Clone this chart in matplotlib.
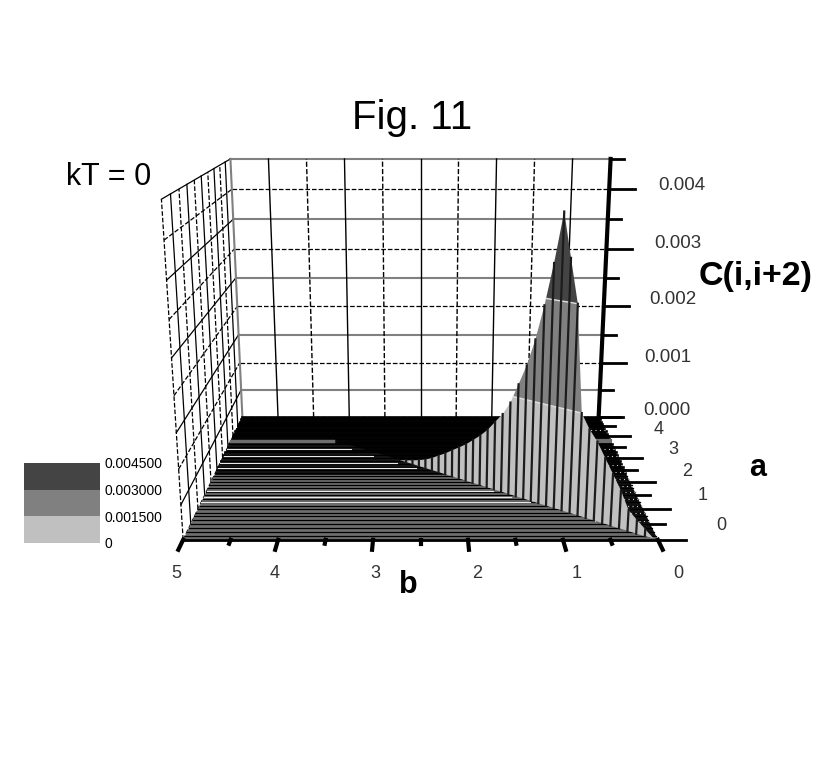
import matplotlib
matplotlib.use('Agg')
import matplotlib.pyplot as plt
import numpy as np
from mpl_toolkits.mplot3d.art3d import Poly3DCollection

plt.rcParams['font.family'] = ['Liberation Sans', 'DejaVu Sans']

# ridge of C(i,i+2), everything else lies flat on the floor
ridge_b = [0.04, 0.12, 0.2, 0.28, 0.36, 0.44, 0.52, 0.6, 0.68, 0.76, 0.84, 0.92, 1.0, 1.08, 1.16, 1.24, 1.32, 1.4,
           1.48, 1.56, 1.64, 1.72, 1.8, 1.88, 1.96, 2.04, 2.12, 2.2, 2.28, 2.36, 2.44, 2.52, 2.6, 2.68, 2.76]
ridge_a = [0.05, 0.11, 0.19, 0.28, 0.36, 0.45, 0.53, 0.62, 0.7, 0.79, 0.87, 0.96, 1.04, 1.12, 1.21, 1.29, 1.38, 1.46,
           1.55, 1.63, 1.72, 1.8, 1.89, 1.97, 2.06, 2.14, 2.23, 2.31, 2.4, 2.48, 2.57, 2.65, 2.74, 2.82, 2.91]
ridge_c = [0.0, 0.0001, 0.0002, 0.0003, 0.00055, 0.00075, 0.00095, 0.00115, 0.0013, 0.0015, 0.003, 0.0036,
           0.0042, 0.0035, 0.0029, 0.0024, 0.002, 0.0017, 0.0014, 0.0012, 0.00105, 0.0009, 0.00078, 0.00068,
           0.00058, 0.0005, 0.00042, 0.00034, 0.00027, 0.0002, 0.00014, 0.0001, 0.00006, 0.00003, 0.0]

# edge between the grey front part of the floor and the black back part
edge_b = [5.0, 3.65, 2.76, 0.1, 0.0]
edge_a = [3.8, 3.8, 2.91, 0.1, 0.1]

mesh_a = np.arange(0, 5.01, 0.125)
white_rows = [3.4, 3.1, 2.8, 2.55, 1.65, 1.45, 1.25]
dotted_rows = [0.6, 0.85, 1.1, 1.35, 1.6, 1.85, 2.1, 2.4, 2.7, 3.1, 3.4, 4.3]
b_ticks = np.arange(0, 5.01, 0.5)
a_ticks = np.arange(0, 5.01, 0.5)
c_ticks = np.arange(0, 0.00451, 0.0005)

levels = [0, 0.0015, 0.003, 0.0045]
level_colors = ['#c0c0c0', '#808080', '#444444']
level_labels = ['0', '0.001500', '0.003000', '0.004500']

fig = plt.figure(figsize=(8.3, 7.75), dpi=100)
ax = fig.add_axes([-5.7 / 830, 20.5 / 775, 1, 830 / 775], projection='3d', computed_zorder=False)
ax.set_proj_type('persp', focal_length=0.234)
ax.view_init(elev=14.95, azim=-90)
ax.set_axis_off()


def clip_band(pts, lo, hi):
    # cut a polygon to lo <= z <= hi
    for limit, sign in ((lo, 1), (hi, -1)):
        out = []
        for i in range(len(pts)):
            p, q = pts[i], pts[(i + 1) % len(pts)]
            dp, dq = sign * (p[2] - limit), sign * (q[2] - limit)
            if dp >= 0:
                out.append(p)
            if dp * dq < 0:
                t = dp / (dp - dq)
                out.append(tuple(p[k] + t * (q[k] - p[k]) for k in range(3)))
        pts = out
        if not pts:
            return []
    return pts


# back wall and left wall
for c in c_ticks:
    major = round(c / 0.0005) % 2 == 0
    style = dict(color='k', lw=0.9, ls='--') if major else dict(color='#808080', lw=1.5)
    ax.plot([5, 0], [5, 5], [c, c], zorder=1, **style)
    ax.plot([5, 5], [0, 5], [c, c], color='k', lw=0.9, ls='--' if major else '-', zorder=1)
for b in b_ticks:
    major = round(b / 0.5) % 2 == 0
    ax.plot([b, b], [5, 5], [0, 0.0045], color='#808080' if b == 5 else 'k', lw=1.5 if b == 5 else 1,
            ls='--' if major and b != 5 else '-', zorder=1)
for a in a_ticks[:-1]:
    major = round(a / 0.5) % 2 == 0
    ax.plot([5, 5], [a, a], [0, 0.0045], color='k', lw=0.9, ls='--' if major else '-', zorder=1)

# floor
front = [(b, a, 0) for b, a in zip(edge_b, edge_a)] + [(0, 0, 0), (5, 0, 0)]
back = [(b, a, 0) for b, a in zip(edge_b, edge_a)] + [(0, 5, 0), (5, 5, 0)]
ax.add_collection3d(Poly3DCollection([front], facecolors='#6e6e6e', edgecolors='none', zorder=2))
ax.add_collection3d(Poly3DCollection([back], facecolors='#111111', edgecolors='none', zorder=2))
for a in mesh_a:
    ax.plot([5, 0], [a, a], [0, 0], color='k', lw=1.9 if a > 2.3 else 0.9, zorder=3)
for a in white_rows:
    ax.plot([5, a], [a, a], [0, 0], color='#e8e8e8', lw=0.8, zorder=3)
for a in dotted_rows:
    ax.plot([0, min(a, 0.9)], [a, a], [0, 0], color='#d0d0d0', lw=0.8, ls=(0, (1, 3)), zorder=3)
ax.plot([5, 3.65], [3.8, 3.8], [0, 0], color='#6e6e6e', lw=2.5, zorder=3)
ax.plot([0.55, 0], [3.8, 3.8], [0, 0], color='#6e6e6e', lw=3, zorder=3)

# ridge, cut along the colour levels
for i in range(len(ridge_b) - 1):
    b0, b1 = ridge_b[i], ridge_b[i + 1]
    a0, a1 = ridge_a[i], ridge_a[i + 1]
    c0, c1 = ridge_c[i], ridge_c[i + 1]
    quad = [(b0, a0, 0), (b1, a1, 0), (b1, a1, c1), (b0, a0, c0)]
    for j, color in enumerate(level_colors):
        poly = clip_band(quad, levels[j], levels[j + 1])
        if poly:
            ax.add_collection3d(Poly3DCollection([poly], facecolors=color, edgecolors='none', zorder=4))
    for level in levels[1:3]:
        if min(c0, c1) < level < max(c0, c1):
            t = (level - c0) / (c1 - c0)
            ax.plot([b0 + t * (b1 - b0), b1 if c1 > c0 else b0], [a0 + t * (a1 - a0), a1 if c1 > c0 else a0],
                    [level, level], color='#e0e0e0', lw=1, zorder=5)
        elif min(c0, c1) >= level:
            ax.plot([b0, b1], [a0, a1], [level, level], color='#e0e0e0', lw=1, zorder=5)
for b, a, c in zip(ridge_b, ridge_a, ridge_c):
    ax.plot([b, b], [a, a], [0, c], color='#1c1c1c', lw=1.6, zorder=6)

# heavy axes and ticks
ax.plot([0, 0], [5, 5], [0, 0.0045], color='k', lw=3, zorder=7)
ax.plot([5, 0], [0, 0], [0, 0], color='k', lw=2, zorder=7)
for c in c_ticks:
    tick = -0.34 if round(c / 0.0005) % 2 == 0 else -0.18
    ax.plot([0, tick], [5, 5], [c, c], color='k', lw=2, zorder=7)
for a in a_ticks:
    tick = -0.3 if round(a / 0.5) % 2 == 0 else -0.16
    ax.plot([0, tick], [a, a], [0, 0], color='k', lw=2, zorder=7)
for b in b_ticks:
    major = round(b / 0.5) % 2 == 0
    ax.plot([b, b], [0, -0.3 if major else -0.12], [0, 0], color='k', lw=3, zorder=7)

ax.set_xlim(5, 0, view_margin=0)
ax.set_ylim(0, 5, view_margin=0)
ax.set_zlim(0, 0.0045, view_margin=0)
ax.set_box_aspect((4.02, 3.06, 2.89), zoom=0.715)


def label(x, y, s, size, weight='normal', ha='center', color='k'):
    fig.text(x / 830, 1 - y / 775, s, fontsize=size, fontweight=weight, ha=ha, va='center', color=color)


label(412, 118, 'Fig. 11', 29)
label(109, 177, 'kT = 0', 22)
label(756, 277, 'C(i,i+2)', 24.5, 'bold')
label(408, 585, 'b', 22, 'bold')
label(758, 468, 'a', 22, 'bold')
for x, y, s in zip([682, 678, 673, 668, 667], [185, 243, 300, 358, 411],
                   ['0.004', '0.003', '0.002', '0.001', '0.000']):
    label(x, y, s, 13.5, color='#333333')
for x, y, s in zip([721, 703, 687, 673, 659], [526, 495, 472, 449, 429], ['0', '1', '2', '3', '4']):
    label(x, y, s, 13, color='#333333')
for x, s in zip([176, 275, 375, 477, 577, 678], ['5', '4', '3', '2', '1', '0']):
    label(x, 573, s, 13, color='#333333')

# colour key
key = fig.add_axes([24 / 830, (775 - 543) / 775, 76 / 830, 80 / 775])
for j, color in enumerate(level_colors):
    key.bar(0, levels[j + 1] - levels[j], bottom=levels[j], width=1, color=color)
key.set_xlim(-0.5, 0.5)
key.set_ylim(0, 0.0045)
key.set_xticks([])
key.set_yticks(levels)
key.set_yticklabels(level_labels, fontsize=10)
key.yaxis.tick_right()
key.tick_params(axis='y', length=0, pad=3)
for spine in key.spines.values():
    spine.set_visible(False)

fig.savefig('out.png', dpi=100, facecolor='white')
